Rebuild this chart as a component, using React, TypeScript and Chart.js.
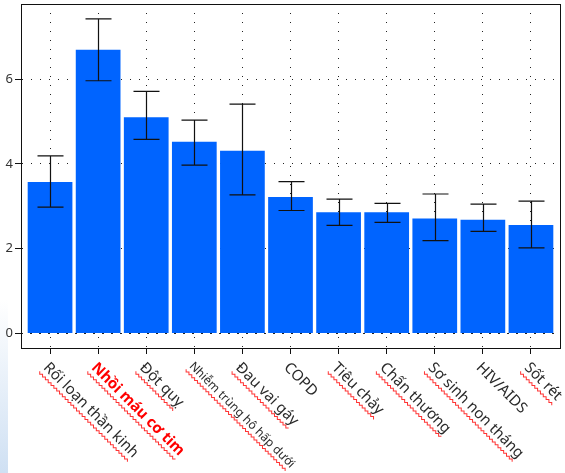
import { useEffect, useRef } from "react";
import { Chart, registerables } from "chart.js";

Chart.register(...registerables);

const categories = [
  "Rối loạn thần kinh",
  "Nhồi máu cơ tim",
  "Đột quỵ",
  "Nhiễm trùng hô hấp dưới",
  "Đau vai gáy",
  "COPD",
  "Tiêu chảy",
  "Chấn thương",
  "Sơ sinh non tháng",
  "HIV/AIDS",
  "Sốt rét",
];
const values = [3.57, 6.69, 5.1, 4.52, 4.31, 3.22, 2.86, 2.86, 2.71, 2.68, 2.56];
const errHigh = [4.19, 7.42, 5.71, 5.03, 5.41, 3.58, 3.17, 3.07, 3.29, 3.05, 3.12];
const errLow = [2.98, 5.96, 4.58, 3.97, 3.27, 2.9, 2.55, 2.62, 2.19, 2.41, 2.02];
const yTicks = [0, 2, 4, 6];

// label styling
const highlightIndex = 1;
const smallIndex = 3;
const noSpellMark = ["COPD", "HIV/AIDS"];

const FONT = "'Noto Sans', 'DejaVu Sans', sans-serif";

const decorPlugin = {
  id: "decor",
  afterDatasetsDraw(chart: any) {
    const { ctx, scales, chartArea } = chart;
    const x = scales.x;
    const y = scales.y;
    ctx.save();
    // zero line shows over the bar bottoms
    const y0 = Math.round(y.getPixelForValue(0)) + 0.5;
    ctx.strokeStyle = "#222";
    ctx.lineWidth = 1;
    ctx.setLineDash([1, 8]);
    ctx.beginPath();
    ctx.moveTo(chartArea.left, y0);
    ctx.lineTo(chartArea.right, y0);
    ctx.stroke();
    ctx.setLineDash([]);

    ctx.strokeStyle = "#111";
    ctx.lineWidth = 1.2;
    categories.forEach((_, i) => {
      const px = Math.round(x.getPixelForValue(i)) + 0.5;
      const top = y.getPixelForValue(errHigh[i]);
      const bot = y.getPixelForValue(errLow[i]);
      ctx.beginPath();
      ctx.moveTo(px, top);
      ctx.lineTo(px, bot);
      ctx.moveTo(px - 13, top);
      ctx.lineTo(px + 13, top);
      ctx.moveTo(px - 13, bot);
      ctx.lineTo(px + 13, bot);
      ctx.stroke();
    });
    ctx.restore();
  },
  afterDraw(chart: any) {
    const { ctx, chartArea, scales } = chart;
    ctx.save();
    ctx.strokeStyle = "#111";
    ctx.lineWidth = 1;
    ctx.strokeRect(
      Math.round(chartArea.left) + 0.5,
      Math.round(chartArea.top) + 0.5,
      Math.round(chartArea.right - chartArea.left),
      Math.round(chartArea.bottom - chartArea.top)
    );
    ctx.restore();

    const x = scales.x;
    categories.forEach((label, i) => {
      const px = x.getPixelForValue(i);
      const size = i === smallIndex ? 12 : 15;
      const bold = i === highlightIndex;
      ctx.save();
      ctx.translate(px + 1, chartArea.bottom + 12);
      ctx.rotate(Math.PI / 4);
      ctx.font = `${bold ? "bold " : ""}${size}px ${FONT}`;
      ctx.fillStyle = bold ? "#ff0000" : "#2a2a2a";
      ctx.textAlign = "left";
      ctx.textBaseline = "top";
      ctx.fillText(label, 0, 0);
      if (!noSpellMark.includes(label)) {
        const w = ctx.measureText(label).width;
        const base = size + 2;
        ctx.strokeStyle = "#f33";
        ctx.lineWidth = 1;
        ctx.beginPath();
        for (let t = 0; t <= w; t += 2) {
          const dy = (t / 2) % 2 === 0 ? -1 : 1;
          if (t === 0) ctx.moveTo(t, base + dy);
          else ctx.lineTo(t, base + dy);
        }
        ctx.stroke();
      }
      ctx.restore();
    });
  },
};

export default function App() {
  const canvasRef = useRef<HTMLCanvasElement>(null);
  const chartRef = useRef<Chart | null>(null);

  useEffect(() => {
    if (!canvasRef.current) return;
    const ctx = canvasRef.current.getContext("2d");
    if (!ctx) return;

    const config: any = {
      type: "bar",
      data: {
        datasets: [
          {
            data: values.map((v, i) => ({ x: i, y: v })),
            backgroundColor: "#0064ff",
            borderWidth: 0,
            barPercentage: 0.93,
            categoryPercentage: 1,
          },
        ],
      },
      options: {
        responsive: false,
        animation: false,
        layout: { padding: { top: 4, right: 5, left: 0, bottom: 0 } },
        plugins: {
          legend: { display: false },
          tooltip: { enabled: false },
        },
        scales: {
          x: {
            type: "linear",
            offset: false,
            min: -0.604,
            max: 10.604,
            afterBuildTicks: (s: any) => {
              s.ticks = categories.map((_, i) => ({ value: i }));
            },
            afterFit: (s: any) => {
              s.height = 125;
              s.paddingLeft = 0;
              s.paddingRight = 0;
            },
            ticks: { display: false },
            grid: { offset: false, color: "#222", tickLength: 6, tickColor: "#111" },
            border: { color: "#111", dash: [1, 8] },
          },
          y: {
            min: -0.342,
            max: 7.77,
            afterBuildTicks: (s: any) => {
              s.ticks = yTicks.map((v) => ({ value: v }));
            },
            afterFit: (s: any) => {
              s.width = 21;
              s.paddingTop = 0;
              s.paddingBottom = 0;
            },
            ticks: {
              color: "#333",
              padding: 2,
              font: { family: FONT, size: 13 },
            },
            grid: { color: "#222", tickLength: 6, tickColor: "#111" },
            border: { color: "#111", dash: [1, 8] },
          },
        },
      },
      plugins: [decorPlugin],
    };

    chartRef.current = new Chart(ctx, config);
    return () => {
      if (chartRef.current) {
        chartRef.current.destroy();
        chartRef.current = null;
      }
    };
  }, []);

  return (
    <div style={{ position: "fixed", left: 0, top: 0, width: 565, height: 473, background: "#fff" }}>
      <div
        style={{
          position: "absolute",
          left: 0,
          top: 300,
          width: 8,
          height: 173,
          background: "linear-gradient(to bottom, rgba(215,230,246,0), #cfe0f3)",
        }}
      />
      <canvas ref={canvasRef} width={565} height={473} style={{ position: "absolute", left: 0, top: 0 }} />
    </div>
  );
}
